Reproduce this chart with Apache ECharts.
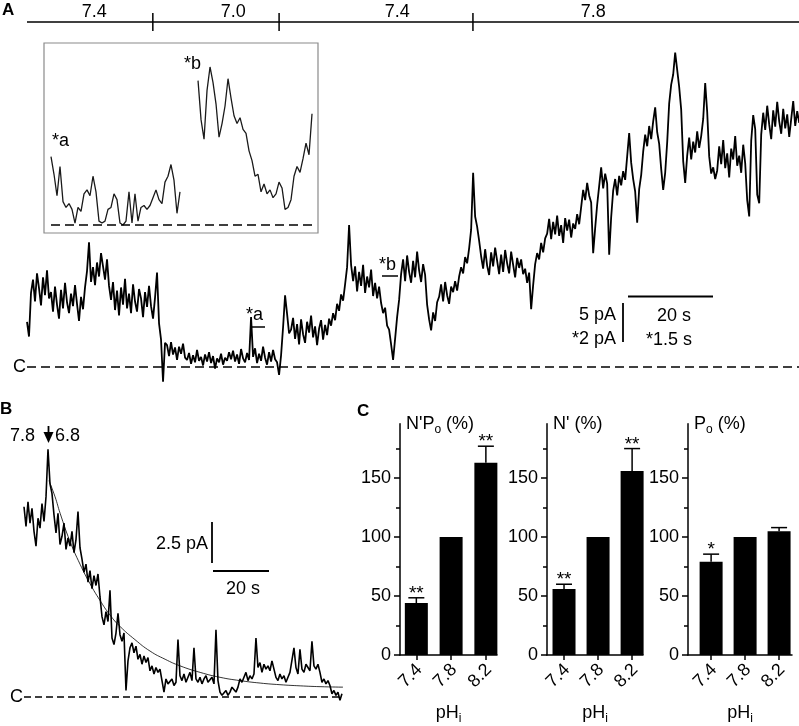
<!DOCTYPE html>
<html><head><meta charset="utf-8">
<script src="https://cdn.jsdelivr.net/npm/echarts@6/dist/echarts.min.js"></script>
<style>html,body{margin:0;padding:0;background:#fff}#c{width:799px;height:726px}</style>
</head><body><div id="c"></div>
<script>
const FONT = '"Liberation Sans", Arial, sans-serif';

// ---------- Panel A: main trace (pA), sampled every A_DT seconds ----------
const A_DT = 0.4706;
const traceA = [
 5.8, 3.9,
 9.5, 11.2, 8.4, 12.0, 10.1, 7.9, 11.5, 9.2, 12.4, 8.8,
 9.6, 7.1, 10.3, 8.0, 6.2, 9.9, 7.5, 10.8, 8.3, 6.9, 9.4, 7.8, 10.5, 8.1, 5.9, 9.0, 7.4, 10.2,
 12.3, 16.0, 10.9,
 12.8, 10.5, 13.4, 11.6, 14.6, 12.9, 11.2, 13.8, 10.4,
 8.6, 10.9, 7.3, 9.8, 6.6, 10.2, 8.0, 11.3, 7.5, 9.4, 6.9, 10.6, 8.4, 7.1, 10.0, 8.8, 6.4, 9.6, 7.7, 10.4,
 7.8, 6.2, 8.9, 12.1,
 5.6, 3.5, -1.9, 3.1,
 2.8, 1.4, 3.2, 1.6, 2.5, 0.9, 2.6, 1.7, 3.0, 1.2,
 0.9, 1.8, 0.4, 1.5, 0.6, 2.2, 0.8, 1.3, 0.2, 1.6, 0.7, 1.9, 0.5, 1.4, -0.2, 1.1, 0.6, 1.7, 0.3, 1.2, 0.8, 1.9,
 1.0, 2.1, 0.7, 1.6, 0.4, 2.3, 1.1, 0.6, 1.8, 0.9, 6.4, 1.3, 2.4, 0.5, 1.7, 0.8, 2.6, 1.2, 0.3, 1.9, 0.7, 2.2, 1.0,
 0.6, -1.0, 1.5,
 5.1, 9.2, 6.8, 4.3,
 4.8, 6.3, 3.6, 5.5, 2.9, 6.1, 4.2, 3.1, 5.8, 4.4, 6.6, 3.8, 5.2, 2.8, 4.9, 6.0, 3.5, 5.4, 4.1, 6.2,
 5.3, 6.9, 6.0, 8.1, 7.2, 9.3, 8.5, 10.6,
 12.8, 18.2, 13.1,
 11.0, 12.9, 9.7, 12.2, 10.4, 13.1, 9.5, 11.6, 10.2, 12.5, 9.1, 10.8, 8.8, 10.3,
 8.2, 6.9, 7.6, 5.3, 4.8, 2.9, 0.9, 3.6,
 6.4, 8.6,
 11.9, 13.8, 11.0, 14.3, 12.2, 10.8, 13.6, 11.5, 14.8, 12.4, 10.9, 13.2, 11.8,
 8.0, 6.1, 4.7, 7.0, 5.9, 8.3,
 9.0, 10.6, 8.4, 10.9, 9.2, 8.1, 10.3, 9.6, 11.0, 9.8,
 11.6, 12.8, 12.0, 14.1, 13.3, 15.2,
 17.6, 24.9, 19.3, 18.0, 16.2,
 14.2, 12.6, 15.1, 13.0, 11.8, 14.7, 12.9, 15.3, 13.6, 11.9, 14.4, 12.2, 15.0, 13.3, 12.0, 14.8, 13.1, 11.5, 14.0, 12.7, 13.8, 11.9, 12.6, 10.8, 12.1,
 7.4, 10.5, 13.2, 14.6, 13.8, 15.9, 14.7, 16.5,
 17.1, 19.0, 16.4, 18.6, 17.0, 19.4, 16.8, 18.2, 15.9, 19.1, 17.5, 18.9, 16.6, 18.4, 17.7, 19.6, 18.3,
 20.5, 22.7, 21.4, 23.6, 22.0, 21.1,
 14.6, 17.8, 20.8,
 23.2, 25.6, 22.9, 24.8, 23.5,
 14.4, 19.2,
 22.6, 24.1, 22.0, 24.5, 23.3, 25.1, 24.0,
 27.0, 30.0, 26.2,
 24.1, 22.5, 18.5, 22.8, 24.6,
 27.6, 29.8, 28.3, 30.9, 29.2, 31.5, 33.3, 30.1, 28.6,
 25.4, 22.7, 24.9, 28.8,
 33.8, 36.2, 37.5, 40.3, 38.1, 35.9, 33.0,
 26.4, 23.6,
 27.1, 29.4, 26.6, 28.9, 27.5, 30.2, 28.1, 29.6,
 31.8, 36.4, 32.7,
 27.0, 24.8, 25.6, 24.1,
 25.2, 28.3, 26.0, 29.1, 25.5, 27.4, 24.3, 28.0, 26.6, 29.6, 25.8, 27.1, 24.9, 28.5, 26.1,
 21.4, 19.3,
 29.0, 32.3, 30.5,
 22.1, 21.0,
 29.8, 32.6, 30.4, 33.5, 31.1, 29.2, 32.9, 30.8, 34.0, 31.5, 29.9, 33.1, 30.6, 32.4, 29.5, 31.8, 34.1, 30.9, 32.8, 31.3
];
const A_TMAX = 181.6;

// ---------- Panel A inset (pA) ----------
const INSET_DT = 0.0529;
const insetA = [3.5, 2.6, 1.5, 3.0, 1.2, 0.9, 1.1, 0.8, 0.1, 0.9, 0.7, 1.6, 1.8, 1.5, 2.5, 1.7, 0.2, 0.1, 0.2, 0.8,
 0.9, 1.6, 1.3, 0.1, 0.0, 0.2, 1.7, 0.1, 1.6, 0.2, 0.9, 1.0, 0.8, 1.0, 1.4, 1.8, 1.3, 1.1, 2.2, 2.5, 3.1, 2.3, 0.6, 1.7];
const INSET_B_START = 2.593;
const insetB = [7.4, 5.4, 4.4, 6.9, 8.1, 7.3, 6.2, 4.5, 5.2, 6.1, 7.5, 6.5, 5.6, 5.2, 5.5, 4.9, 4.7, 3.8, 3.3, 2.5,
 2.6, 1.7, 2.1, 1.6, 1.8, 1.4, 1.6, 2.2, 1.9, 0.8, 0.9, 1.3, 2.5, 3.0, 2.7, 3.4, 4.2, 3.6, 5.7];
const INSET_TMAX = 4.603;

// pH protocol bar (times in s of panel A)
const phLabels = ['7.4', '7.0', '7.4', '7.8'];
const phLabelTimes = [15.8, 48.5, 87.1, 133.2];
const phSwitchTimes = [29.6, 59.3, 104.9];

// ---------- Panel B ----------
const B_DT = 0.714;
const traceB = [
 11.6, 10.4, 11.9, 10.6, 11.5, 10.1, 9.2, 10.9, 10.3, 11.8, 10.7, 12.2,
 15.1, 13.0, 12.4, 11.1, 10.0, 11.2, 9.3, 9.8, 10.6, 9.0, 9.7,
 9.2, 10.1, 8.8, 9.6, 11.3, 9.1, 8.4, 7.6, 8.1,
 7.0, 7.7, 6.6, 7.4, 6.8, 7.5, 6.1,
 4.9, 4.4, 5.2, 4.6, 6.5, 3.6, 3.2, 3.9, 5.1, 3.8, 3.4, 3.9,
 0.4, 2.2, 3.0, 3.3, 2.7, 3.1,
 2.3, 2.6, 2.0, 2.5, 2.1, 2.4, 1.6, 1.9, 1.4, 1.8, 1.5, 1.7,
 1.0, 0.3, 1.1, 0.8, 0.9, 1.1, 0.7, 0.9, 3.5,
 1.3, 1.0, 1.4, 0.9, 1.2, 1.5, 1.0, 3.0,
 1.1, 0.9, 1.2, 0.8, 1.1, 1.3, 0.9, 1.0, 1.2, 0.8, 4.1,
 1.0, 0.3, 0.1, 0.2, 0.4, 0.1, 0.3, 0.6,
 0.5, 0.3, 0.6, 1.1, 0.9,
 1.2, 1.5, 1.0, 1.3, 1.1, 1.4, 3.6,
 1.8, 2.1, 1.5, 2.0, 1.7, 1.9, 1.6, 2.2, 1.7,
 1.2, 1.0, 1.4, 1.1, 1.3, 0.9, 1.2, 1.5,
 1.6, 3.0, 1.8, 1.4, 2.9, 1.7, 1.5, 2.0,
 1.8, 1.6, 3.4, 1.9, 1.7, 2.0, 1.5,
 0.9, 1.1, 0.8, 1.0, 0.7,
 0.2, 0.4, 0.1, 0.3, -0.2, 0.2
];
const B_TMAX = 113.9;
const fitTimes = [8.9, 11.1, 12.9, 16.4, 20.0, 23.6, 27.1, 30.7, 34.3, 39.6, 45.0, 50.4, 55.7, 62.9, 70.0, 77.1, 84.3, 91.4, 98.6, 105.7, 113.9];
const fitValues = [13.2, 12.2, 11.2, 9.5, 8.1, 6.9, 5.9, 5.0, 4.3, 3.5, 2.8, 2.3, 1.9, 1.5, 1.2, 1.0, 0.85, 0.75, 0.68, 0.63, 0.6];

// ---------- Panel C ----------
const pHCats = ['7.4', '7.8', '8.2'];
const npoMean = [44, 100, 163], npoErr = [4.5, 0, 14], npoSig = ['**', '', '**'];
const nMean = [56, 100, 156], nErr = [4, 0, 19], nSig = ['**', '', '**'];
const poMean = [79, 100, 105], poErr = [6.5, 0, 3], poSig = ['*', '', ''];
const yTicks = [0, 50, 100, 150];
const yMinorTicks = [25, 75, 125, 175];

// ---------- build ----------
const chart = echarts.init(document.getElementById('c'), null, {renderer: 'canvas'});
const txt = {color: '#000', fontFamily: FONT, fontSize: 18};
const rich = {a: {fontSize: 18, fontFamily: FONT, color: '#000'}, s: {fontSize: 12, fontFamily: FONT, color: '#000', padding: [12, 0, 0, 0]}};

function hiddenX(g, max) { return {type: 'value', gridIndex: g, min: 0, max: max, show: false}; }
function hiddenY(g, min, max) { return {type: 'value', gridIndex: g, min: min, max: max, show: false}; }

const barGrids = [
  {left: 400, width: 97, xmin: -0.47, xmax: 2.32, title: "{a|N'P}{s|o}{a| (%)}", mean: npoMean, err: npoErr, sig: npoSig},
  {left: 547, width: 96, xmin: -0.5, xmax: 2.32, title: "{a|N' (%)}", mean: nMean, err: nErr, sig: nSig},
  {left: 688, width: 104, xmin: -0.68, xmax: 2.38, title: "{a|P}{s|o}{a| (%)}", mean: poMean, err: poErr, sig: poSig}
];

const grids = [
  {left: 27, top: 39.4, width: 772, height: 343.2},
  {left: 51, top: 43, width: 261, height: 190},
  {left: 24, top: 439.5, width: 319, height: 265.7}
];
const xAxes = [hiddenX(0, A_TMAX), hiddenX(1, INSET_TMAX), hiddenX(2, B_TMAX)];
const yAxes = [hiddenY(0, -2, 42), hiddenY(1, -0.41, 9.33), hiddenY(2, -0.5, 15.7)];
const series = [];

function baseMark(dash) {
  return {silent: true, symbol: 'none', animation: false,
    lineStyle: {color: '#000', type: dash, width: 1.5},
    label: {show: true, position: 'start', formatter: 'C', color: '#000', fontSize: 18, fontFamily: FONT, distance: 1},
    data: [{yAxis: 0}]};
}

series.push({type: 'line', xAxisIndex: 0, yAxisIndex: 0, data: traceA.map((v, i) => [i * A_DT, v]),
  symbol: 'none', lineStyle: {color: '#000', width: 1.8}, silent: true, markLine: baseMark([9, 5])});
series.push({type: 'line', xAxisIndex: 1, yAxisIndex: 1, data: insetA.map((v, i) => [i * INSET_DT, v]),
  symbol: 'none', lineStyle: {color: '#1a1a1a', width: 1.3}, silent: true,
  markLine: {silent: true, symbol: 'none', lineStyle: {color: '#000', type: [9, 5], width: 1.5}, label: {show: false}, data: [{yAxis: 0}]}});
series.push({type: 'line', xAxisIndex: 1, yAxisIndex: 1, data: insetB.map((v, i) => [INSET_B_START + i * INSET_DT, v]),
  symbol: 'none', lineStyle: {color: '#1a1a1a', width: 1.3}, silent: true});
series.push({type: 'line', xAxisIndex: 2, yAxisIndex: 2, data: traceB.map((v, i) => [i * B_DT, v]),
  symbol: 'none', lineStyle: {color: '#000', width: 1.6}, silent: true, markLine: baseMark([7, 4])});
series.push({type: 'line', xAxisIndex: 2, yAxisIndex: 2, data: fitTimes.map((t, i) => [t, fitValues[i]]),
  symbol: 'none', smooth: true, lineStyle: {color: '#000', width: 0.8}, silent: true, z: 3});

barGrids.forEach((b, k) => {
  const g = 3 + k;
  grids.push({left: b.left, top: 423.8, width: b.width, height: 235.2});
  xAxes.push({type: 'value', gridIndex: g, min: b.xmin, max: b.xmax,
    axisLine: {show: true, onZero: false, lineStyle: {color: '#000', width: 1.5}},
    axisTick: {show: true, customValues: [0, 1, 2], length: 5, lineStyle: {color: '#000', width: 1.5}},
    splitLine: {show: false},
    axisLabel: {show: false},
    name: '{a|pH}{s|i}', nameLocation: 'middle', nameGap: 46, nameTextStyle: {rich: rich}});
  yAxes.push({type: 'value', gridIndex: g, min: 0, max: 196, position: 'left',
    axisLine: {show: true, onZero: false, lineStyle: {color: '#000', width: 1.5}},
    axisTick: {show: true, customValues: yTicks, length: 6, lineStyle: {color: '#000', width: 1.5}},
    axisLabel: {customValues: yTicks, margin: 9, ...txt},
    splitLine: {show: false},
    name: b.title, nameLocation: 'end', nameGap: 0,
    nameTextStyle: {rich: rich, align: 'left', verticalAlign: 'middle', padding: [0, 0, 0, 6]}});
  series.push({type: 'bar', xAxisIndex: g, yAxisIndex: g, data: b.mean.map((m, i) => [i, m]),
    barWidth: 23, itemStyle: {color: '#000'}, silent: true});
  series.push({type: 'custom', xAxisIndex: g, yAxisIndex: g, silent: true, z: 3,
    data: b.mean.map((m, i) => [i, m, b.err[i]]),
    renderItem: (params, api) => {
      const i = api.value(0), m = api.value(1), e = api.value(2);
      const p0 = api.coord([i, m]), p1 = api.coord([i, m + e]);
      const ch = [];
      if (e > 0) {
        ch.push({type: 'line', shape: {x1: p0[0], y1: p0[1], x2: p1[0], y2: p1[1]}, style: {stroke: '#000', lineWidth: 1.5}});
        ch.push({type: 'line', shape: {x1: p1[0] - 8, y1: p1[1], x2: p1[0] + 8, y2: p1[1]}, style: {stroke: '#000', lineWidth: 1.5}});
      }
      const s = b.sig[params.dataIndex];
      if (s) ch.push({type: 'text', style: {text: s, x: p1[0], y: p1[1] - 4, align: 'center', verticalAlign: 'middle', fontSize: 19, fontFamily: FONT, fill: '#000'}});
      return {type: 'group', children: ch};
    }});
});
barGrids.forEach((b, k) => {
  const g = 3 + k;
  yAxes.push({type: 'value', gridIndex: g, min: 0, max: 196, position: 'left', offset: 0,
    axisLine: {show: false, onZero: false}, axisLabel: {show: false}, splitLine: {show: false},
    axisTick: {show: true, customValues: yMinorTicks, length: 4, lineStyle: {color: '#000', width: 1.5}}});
});

function T(text, x, y, extra) {
  return {type: 'text', silent: true, style: Object.assign({text: text, x: x, y: y, fill: '#000', font: '18px ' + FONT, align: 'left', verticalAlign: 'middle'}, extra || {})};
}
function L(x1, y1, x2, y2, w) {
  return {type: 'line', silent: true, shape: {x1, y1, x2, y2}, style: {stroke: '#000', lineWidth: w || 1.5}};
}

chart.setOption({
  animation: false,
  backgroundColor: '#fff',
  grid: grids, xAxis: xAxes, yAxis: yAxes, series: series
});

// annotations
const g = [];
const px = t => chart.convertToPixel({xAxisIndex: 0}, t);
// rotated category labels of panel C
barGrids.forEach((b, k) => {
  const gi = 3 + k;
  pHCats.forEach((c, i) => {
    const p = chart.convertToPixel({xAxisIndex: gi, yAxisIndex: gi}, [i, 0]);
    g.push({type: 'text', silent: true, x: p[0] + 3, y: p[1] + 12, rotation: Math.PI / 4,
      style: {text: c, x: 0, y: 0, fill: '#000', font: '18px ' + FONT, align: 'right', verticalAlign: 'middle'}});
  });
});
// panel letters
g.push(T('A', 2, 10, {font: 'bold 17px ' + FONT}));
g.push(T('B', 0, 409, {font: 'bold 17px ' + FONT}));
g.push(T('C', 357, 411, {font: 'bold 17px ' + FONT}));
// pH bar
g.push(L(27, 22, 799, 22, 1.5));
phSwitchTimes.forEach(t => { const x = px(t); g.push(L(x, 13, x, 31, 1.5)); });
phLabels.forEach((s, i) => g.push(T(s, px(phLabelTimes[i]), 12, {align: 'center'})));
// inset box and labels
g.push({type: 'rect', silent: true, shape: {x: 44, y: 43, width: 274, height: 190}, style: {fill: 'none', stroke: '#8a8a8a', lineWidth: 1.2}});
g.push(T('*a', 52, 141));
g.push(T('*b', 184, 64));
// *a, *b markers on main trace
g.push(T('*a', 246, 315));
g.push(L(251, 327, 265, 327, 1.5));
g.push(T('*b', 379, 265));
g.push(L(382, 276, 398, 276, 1.5));
// scale bars A
g.push(L(623, 303, 623, 342, 1.8));
g.push(L(628, 296.5, 713, 296.5, 1.8));
g.push(T('5 pA', 616, 315, {align: 'right'}));
g.push(T('*2 pA', 616, 339, {align: 'right'}));
g.push(T('20 s', 674, 316, {align: 'center'}));
g.push(T('*1.5 s', 669, 340, {align: 'center'}));
// panel B annotations
g.push(T('7.8', 10, 436));
g.push(L(48.5, 426, 48.5, 434, 1.8));
g.push({type: 'polygon', silent: true, shape: {points: [[43.5, 432], [53.5, 432], [48.5, 443]]}, style: {fill: '#000'}});
g.push(T('6.8', 55, 436));
g.push(L(212, 522, 212, 563, 1.8));
g.push(L(213, 571, 269, 571, 1.8));
g.push(T('2.5 pA', 208, 544, {align: 'right'}));
g.push(T('20 s', 243, 589, {align: 'center'}));

chart.setOption({graphic: {elements: g}});
</script>
</body></html>
